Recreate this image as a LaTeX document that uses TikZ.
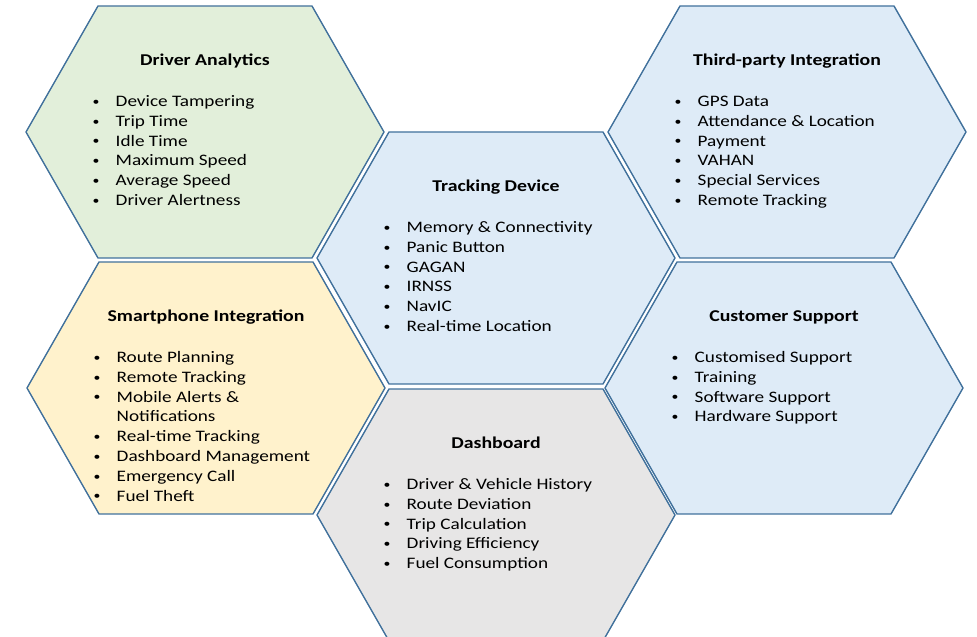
\documentclass[tikz,border=0pt]{standalone}
\usepackage{fontspec}
\setmainfont{Carlito}[FakeStretch=1.2]

\definecolor{hexline}{RGB}{65,113,156}
\definecolor{greenfill}{RGB}{226,239,218}
\definecolor{yellowfill}{RGB}{255,242,204}
\definecolor{bluefill}{RGB}{222,235,247}
\definecolor{grayfill}{RGB}{231,230,230}

\newcommand{\hexbul}{\makebox[24pt][l]{\hspace{1pt}\raisebox{1.2pt}{\fontsize{11.5}{11.5}\selectfont\textbullet}}}

\begin{document}
\begin{tikzpicture}[x=1pt,y=1pt,
  hexa/.style={draw=hexline, line width=1.4pt, line join=round},
  hexshape/.style={insert path={(-179,0) -- (-107,126) -- (107,126) -- (179,0) -- (107,-126) -- (-107,-126) -- cycle}},
  head/.style={anchor=base, inner sep=0pt, font=\fontsize{16.5}{19.8}\selectfont\bfseries},
  items/.style={anchor=base west, inner sep=0pt, font=\fontsize{16}{19.8}\selectfont}]

\useasboundingbox (0,0) rectangle (977,637);
\clip (0,0) rectangle (977,637);

% hexagons
\draw[hexa, fill=greenfill, shift={(205,505)}, hexshape];
\draw[hexa, fill=yellowfill, shift={(206,249)}, hexshape];
\draw[hexa, fill=bluefill, shift={(496,379)}, hexshape];
\draw[hexa, fill=grayfill, shift={(496,122)}, hexshape];
\draw[hexa, fill=bluefill, shift={(787,505)}, hexshape];
\draw[hexa, fill=bluefill, shift={(784,249)}, hexshape];

% Driver Analytics
\node[head] (drvtitle) at (205,571.5) {Driver Analytics};
\node[items] (drvlist) at (91.5,530.5) {\begin{tabular}[t]{@{}l@{}}
  \hexbul Device Tampering\\ \hexbul Trip Time\\ \hexbul Idle Time\\
  \hexbul Maximum Speed\\ \hexbul Average Speed\\ \hexbul Driver Alertness\end{tabular}};

% Smartphone Integration
\node[head] (phonetitle) at (206,315.5) {Smartphone Integration};
\node[items] (phonelist) at (92.5,274.5) {\begin{tabular}[t]{@{}l@{}}
  \hexbul Route Planning\\ \hexbul Remote Tracking\\ \hexbul Mobile Alerts \&\\
  \hspace*{24pt}Notifications\\ \hexbul Real-time Tracking\\ \hexbul Dashboard Management\\
  \hexbul Emergency Call\\ \hexbul Fuel Theft\end{tabular}};

% Tracking Device
\node[head] (tracktitle) at (496,445.5) {Tracking Device};
\node[items] (tracklist) at (382.5,404.5) {\begin{tabular}[t]{@{}l@{}}
  \hexbul Memory \& Connectivity\\ \hexbul Panic Button\\ \hexbul GAGAN\\
  \hexbul IRNSS\\ \hexbul NavIC\\ \hexbul Real-time Location\end{tabular}};

% Dashboard
\node[head] (dashtitle) at (496,188.5) {Dashboard};
\node[items] (dashlist) at (382.5,147.5) {\begin{tabular}[t]{@{}l@{}}
  \hexbul Driver \& Vehicle History\\ \hexbul Route Deviation\\ \hexbul Trip Calculation\\
  \hexbul Driving Efficiency\\ \hexbul Fuel Consumption\end{tabular}};

% Third-party Integration
\node[head] (thirdtitle) at (787,571.5) {Third-party Integration};
\node[items] (thirdlist) at (673.5,530.5) {\begin{tabular}[t]{@{}l@{}}
  \hexbul GPS Data\\ \hexbul Attendance \& Location\\ \hexbul Payment\\
  \hexbul VAHAN\\ \hexbul Special Services\\ \hexbul Remote Tracking\end{tabular}};

% Customer Support
\node[head] (custtitle) at (784,315.5) {Customer Support};
\node[items] (custlist) at (670.5,274.5) {\begin{tabular}[t]{@{}l@{}}
  \hexbul Customised Support\\ \hexbul Training\\ \hexbul Software Support\\
  \hexbul Hardware Support\end{tabular}};

\end{tikzpicture}
\end{document}
